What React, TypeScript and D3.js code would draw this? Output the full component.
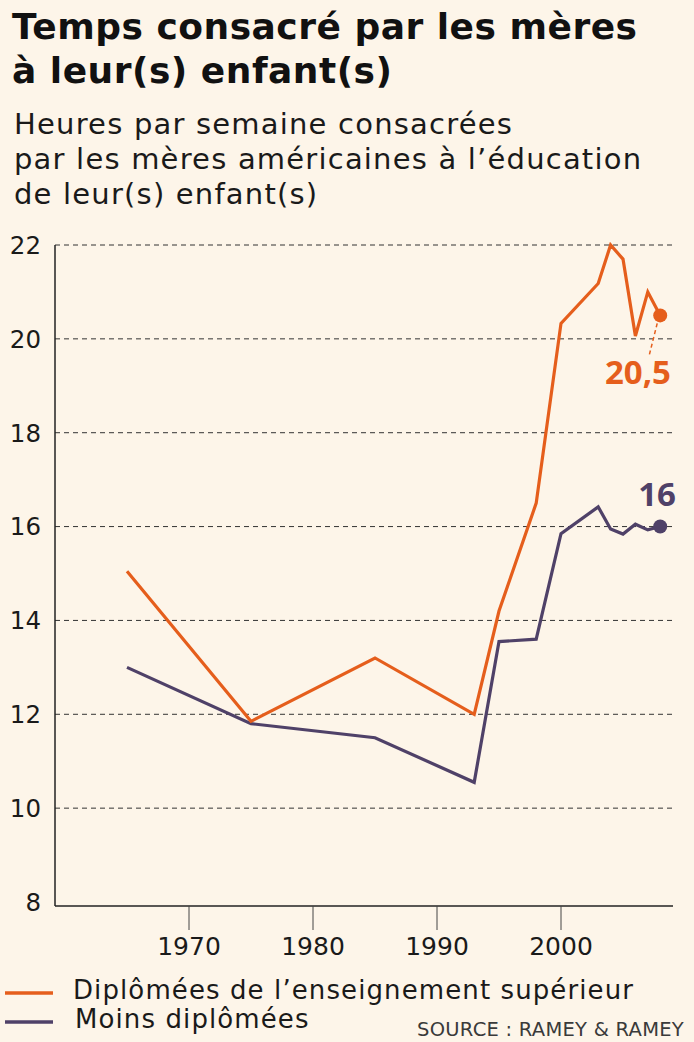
import React from "react";
import * as d3 from "d3";

const yearsCollege = [1965, 1975, 1985, 1993, 1995, 1998, 2000, 2003, 2004, 2005, 2006, 2007, 2008];
const valuesCollege = [15.05, 11.85, 13.2, 12.0, 14.2, 16.5, 20.33, 21.18, 22.0, 21.7, 20.06, 21.0, 20.5];
const yearsLess = [1965, 1975, 1985, 1993, 1995, 1998, 2000, 2003, 2004, 2005, 2006, 2007, 2008];
const valuesLess = [13.0, 11.8, 11.5, 10.55, 13.55, 13.6, 15.85, 16.42, 15.95, 15.84, 16.05, 15.93, 16.0];
const yTicks = [8, 10, 12, 14, 16, 18, 20, 22];
const xTicks = [1970, 1980, 1990, 2000];
const titleLines = ["Temps consacré par les mères", "à leur(s) enfant(s)"];
const subtitleLines = ["Heures par semaine consacrées", "par les mères américaines à l’éducation", "de leur(s) enfant(s)"];
const legendLabels = ["Diplômées de l’enseignement supérieur", "Moins diplômées"];
const endLabels = ["20,5", "16"];

const ORANGE = "#e55e1c";
const PURPLE = "#4f4168";
const BG = "#fdf5e9";
const FONT = "'DejaVu Sans', Verdana, sans-serif";
const FONT_NUM = "'Open Sans', sans-serif";

export default function App() {
  const W = 694, H = 1042;
  const x = d3.scaleLinear().domain([1970, 2000]).range([189, 561]);
  const y = d3.scaleLinear().domain([8, 22]).range([902, 245]);
  const axisLeft = 55;
  const axisRight = 673;
  const axisY = 906;

  const line = d3.line<[number, number]>().x(d => x(d[0])).y(d => y(d[1]));
  const college: [number, number][] = yearsCollege.map((yr, i) => [yr, valuesCollege[i]]);
  const less: [number, number][] = yearsLess.map((yr, i) => [yr, valuesLess[i]]);
  const lastC = college[college.length - 1];
  const lastL = less[less.length - 1];

  return (
    <svg width={W} height={H} style={{ position: "absolute", left: 0, top: 0, background: BG }} fontFamily={FONT}>
      <rect x={0} y={0} width={W} height={H} fill={BG} />
      {titleLines.map((t, i) => (
        <text key={t} x={12} y={39 + i * 44} fontSize={36} fontWeight={700} fill="#111" letterSpacing={0.5}>{t}</text>
      ))}
      {subtitleLines.map((t, i) => (
        <text key={t} x={14} y={134 + i * 35} fontSize={29} fontWeight={400} fill="#1a1a1a" letterSpacing={1.2}>{t}</text>
      ))}

      {yTicks.filter(v => v > 8).map(v => (
        <line key={v} x1={axisLeft} x2={axisRight} y1={y(v)} y2={y(v)} stroke="#333" strokeWidth={1} strokeDasharray="5,4" />
      ))}
      {yTicks.map(v => (
        <text key={v} x={41} y={y(v)} dy="0.36em" textAnchor="end" fontSize={24.5} fontWeight={400} fill="#1a1a1a">{v}</text>
      ))}
      <line x1={axisLeft} x2={axisLeft} y1={y(22)} y2={axisY} stroke="#222" strokeWidth={1.5} />
      <line x1={axisLeft} x2={axisRight} y1={axisY} y2={axisY} stroke="#222" strokeWidth={1.5} />
      {xTicks.map(t => (
        <g key={t}>
          <line x1={x(t)} x2={x(t)} y1={axisY} y2={axisY + 24} stroke="#444" strokeWidth={1} />
          <text x={x(t)} y={955} textAnchor="middle" fontSize={25} fontWeight={400} fill="#1a1a1a">{t}</text>
        </g>
      ))}

      <path d={line(less) || ""} fill="none" stroke={PURPLE} strokeWidth={3.2} strokeLinejoin="miter" />
      <path d={line(college) || ""} fill="none" stroke={ORANGE} strokeWidth={3.2} strokeLinejoin="miter" />
      <circle cx={x(lastC[0])} cy={y(lastC[1])} r={7} fill={ORANGE} />
      <circle cx={x(lastL[0])} cy={y(lastL[1])} r={7} fill={PURPLE} />
      <line x1={x(lastC[0]) - 3} y1={y(lastC[1]) + 8} x2={x(lastC[0]) - 11} y2={y(lastC[1]) + 40} stroke={ORANGE} strokeWidth={1.5} strokeDasharray="4,3" />
      <text x={671} y={384} textAnchor="end" fontSize={33} fontWeight={700} fill={ORANGE} fontFamily={FONT_NUM}>{endLabels[0]}</text>
      <text x={676} y={506} textAnchor="end" fontSize={33} fontWeight={700} fill={PURPLE} fontFamily={FONT_NUM}>{endLabels[1]}</text>

      <line x1={5} x2={53} y1={993} y2={993} stroke={ORANGE} strokeWidth={3.5} />
      <text x={73} y={999} fontSize={26} fontWeight={400} fill="#1a1a1a" letterSpacing={1.1}>{legendLabels[0]}</text>
      <line x1={5} x2={53} y1={1022} y2={1022} stroke={PURPLE} strokeWidth={3.5} />
      <text x={75} y={1028} fontSize={26} fontWeight={400} fill="#1a1a1a" letterSpacing={1.1}>{legendLabels[1]}</text>
      <text x={684} y={1036} textAnchor="end" fontSize={19.5} fontWeight={400} fill="#3a3a3a" letterSpacing={0.25}>SOURCE : RAMEY &amp; RAMEY</text>
    </svg>
  );
}
